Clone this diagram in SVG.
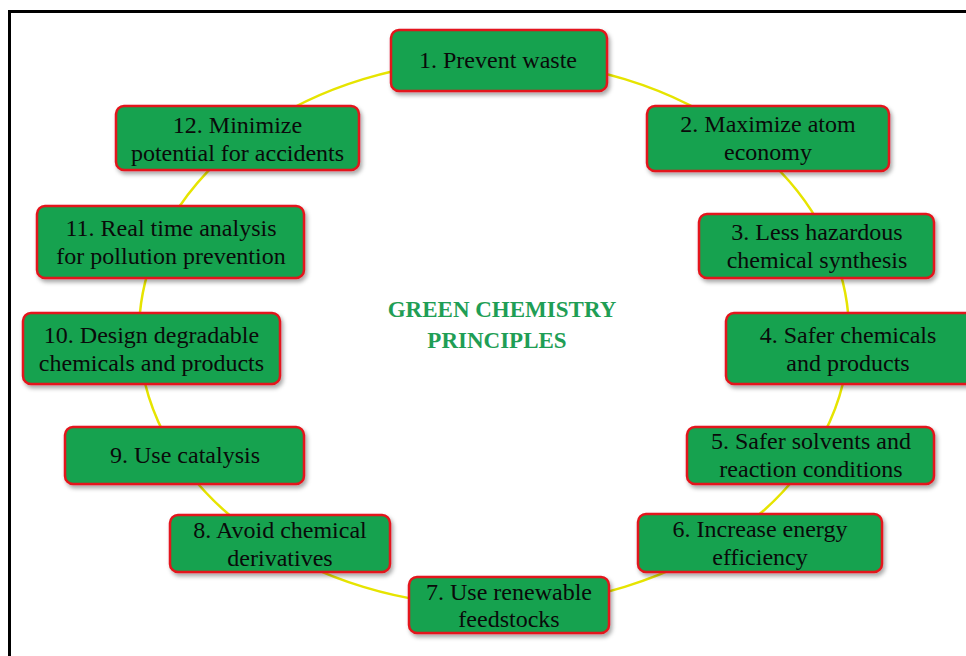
<svg xmlns="http://www.w3.org/2000/svg" width="966" height="656" viewBox="0 0 966 656">
<defs>
<filter id="sh" x="-10%" y="-20%" width="125%" height="150%">
<feDropShadow dx="2" dy="3" stdDeviation="2" flood-color="#000" flood-opacity="0.35"/>
</filter>
</defs>
<style>
.box{fill:#17a24f;stroke:#e3141c;stroke-width:2.5;filter:url(#sh)}
.t{font-family:"Liberation Serif","Times New Roman",serif;font-size:24px;fill:#0a0a0a;text-anchor:middle}
.title{font-family:"Liberation Serif","Times New Roman",serif;font-size:23px;font-weight:bold;fill:#1f9e55;text-anchor:middle}
.ring{fill:none;stroke:#e6e400;stroke-width:2.5}
</style>
<rect x="9.5" y="11.5" width="975" height="670" fill="#fff" stroke="#000" stroke-width="3"/>
<g id="connectors">
<ellipse class="ring" cx="494" cy="333" rx="355" ry="273"/>
</g>
<g id="title">
<text class="title" x="502" y="317">GREEN CHEMISTRY</text>
<text class="title" x="497" y="348">PRINCIPLES</text>
</g>
<g id="n1"><rect class="box" x="391" y="30" width="216" height="61" rx="8"/><text class="t" x="498" y="68">1. Prevent waste</text></g>
<g id="n2"><rect class="box" x="647" y="106" width="242" height="65" rx="8"/><text class="t" x="768" y="132">2. Maximize atom</text><text class="t" x="768" y="160">economy</text></g>
<g id="n3"><rect class="box" x="699" y="214" width="235" height="64" rx="8"/><text class="t" x="817" y="240">3. Less hazardous</text><text class="t" x="817" y="268">chemical synthesis</text></g>
<g id="n4"><rect class="box" x="726" y="313" width="250" height="71" rx="8"/><text class="t" x="848" y="343">4. Safer chemicals</text><text class="t" x="848" y="371">and products</text></g>
<g id="n5"><rect class="box" x="687" y="427" width="247" height="57" rx="8"/><text class="t" x="811" y="449">5. Safer solvents and</text><text class="t" x="811" y="477">reaction conditions</text></g>
<g id="n6"><rect class="box" x="638" y="514" width="244" height="58" rx="8"/><text class="t" x="760" y="537">6. Increase energy</text><text class="t" x="760" y="565">efficiency</text></g>
<g id="n7"><rect class="box" x="409" y="577" width="200" height="56" rx="8"/><text class="t" x="509" y="600">7. Use renewable</text><text class="t" x="509" y="627">feedstocks</text></g>
<g id="n8"><rect class="box" x="170" y="515" width="220" height="57" rx="8"/><text class="t" x="280" y="538">8. Avoid chemical</text><text class="t" x="280" y="566">derivatives</text></g>
<g id="n9"><rect class="box" x="65" y="427" width="239" height="57" rx="8"/><text class="t" x="185" y="463">9. Use catalysis</text></g>
<g id="n10"><rect class="box" x="23" y="313" width="257" height="71" rx="8"/><text class="t" x="151.5" y="343">10. Design degradable</text><text class="t" x="151.5" y="371">chemicals and products</text></g>
<g id="n11"><rect class="box" x="37" y="206" width="267" height="72" rx="8"/><text class="t" x="171" y="236">11. Real time analysis</text><text class="t" x="171" y="264">for pollution prevention</text></g>
<g id="n12"><rect class="box" x="116" y="106" width="243" height="64" rx="8"/><text class="t" x="237.5" y="133">12. Minimize</text><text class="t" x="237.5" y="161">potential for accidents</text></g>
</svg>
